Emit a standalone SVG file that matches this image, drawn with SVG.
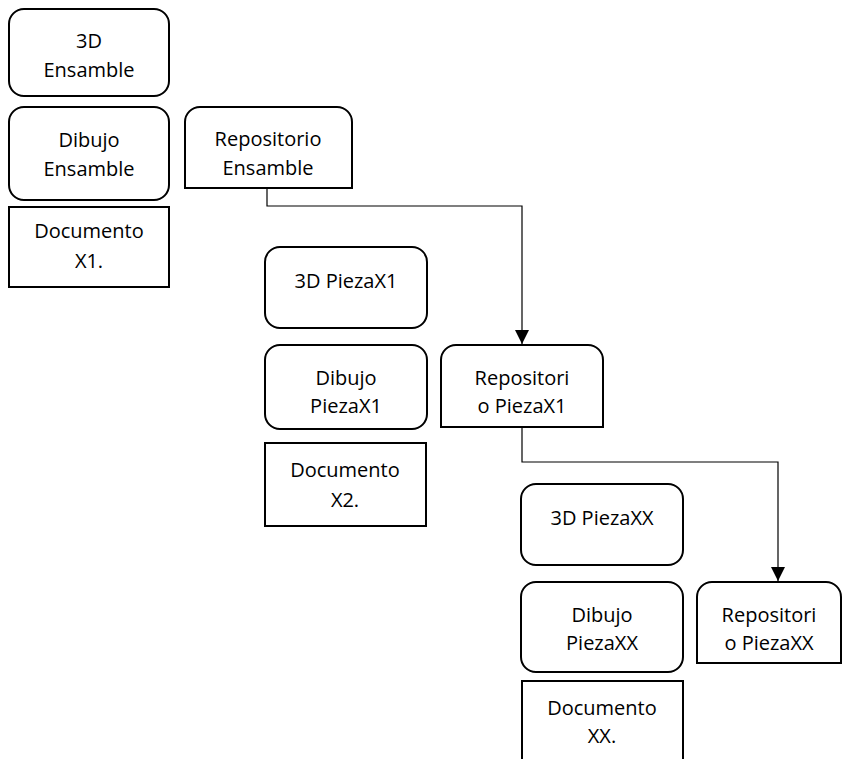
<svg xmlns="http://www.w3.org/2000/svg" width="848" height="759" viewBox="0 0 848 759">
  <style>
    .box { fill: #ffffff; stroke: #000000; stroke-width: 2; }
    .lbl { font-family: "Open Sans", "Liberation Sans", sans-serif; font-size: 20px; fill: #000000; text-anchor: middle; }
    .wire { fill: none; stroke: #000000; stroke-width: 1.2; }
  </style>
  <defs>
    <marker id="arrow" viewBox="0 0 14 14" refX="14" refY="7" markerWidth="14" markerHeight="14" markerUnits="userSpaceOnUse" orient="auto">
      <path d="M0,0 L14,7 L0,14 Z" fill="#000000"/>
    </marker>
  </defs>
  <rect width="848" height="759" fill="#ffffff"/>

  <!-- Assembly column -->
  <g id="ensamble-3d">
    <rect class="box" x="9" y="9" width="160" height="87" rx="15"/>
    <text class="lbl" x="89" y="48">3D</text>
    <text class="lbl" x="89" y="77">Ensamble</text>
  </g>
  <g id="ensamble-dibujo">
    <rect class="box" x="9" y="107" width="160" height="93" rx="15"/>
    <text class="lbl" x="89" y="147">Dibujo</text>
    <text class="lbl" x="89" y="176">Ensamble</text>
  </g>
  <g id="documento-x1">
    <rect class="box" x="9" y="207" width="160" height="80"/>
    <text class="lbl" x="89" y="238">Documento</text>
    <text class="lbl" x="89" y="268">X1.</text>
  </g>
  <g id="repositorio-ensamble">
    <path class="box" d="M185,188 V122 A15,15 0 0 1 200,107 H337 A15,15 0 0 1 352,122 V188 Z"/>
    <text class="lbl" x="268" y="146">Repositorio</text>
    <text class="lbl" x="268" y="175">Ensamble</text>
  </g>

  <!-- Part X1 column -->
  <g id="piezax1-3d">
    <rect class="box" x="265" y="247" width="162" height="81" rx="15"/>
    <text class="lbl" x="346" y="288">3D PiezaX1</text>
  </g>
  <g id="piezax1-dibujo">
    <rect class="box" x="265" y="345" width="162" height="84" rx="15"/>
    <text class="lbl" x="346" y="385">Dibujo</text>
    <text class="lbl" x="346" y="413">PiezaX1</text>
  </g>
  <g id="documento-x2">
    <rect class="box" x="265" y="443" width="161" height="83"/>
    <text class="lbl" x="345" y="477">Documento</text>
    <text class="lbl" x="345" y="507">X2.</text>
  </g>
  <g id="repositorio-piezax1">
    <path class="box" d="M441,427 V360 A15,15 0 0 1 456,345 H588 A15,15 0 0 1 603,360 V427 Z"/>
    <text class="lbl" x="522" y="385">Repositori</text>
    <text class="lbl" x="522" y="413">o PiezaX1</text>
  </g>

  <!-- Part XX column -->
  <g id="piezaxx-3d">
    <rect class="box" x="521" y="484" width="162" height="81" rx="15"/>
    <text class="lbl" x="602" y="525">3D PiezaXX</text>
  </g>
  <g id="piezaxx-dibujo">
    <rect class="box" x="521" y="582" width="162" height="90" rx="15"/>
    <text class="lbl" x="602" y="622">Dibujo</text>
    <text class="lbl" x="602" y="650">PiezaXX</text>
  </g>
  <g id="documento-xx">
    <rect class="box" x="522" y="681" width="161" height="100"/>
    <text class="lbl" x="602" y="715">Documento</text>
    <text class="lbl" x="602" y="743">XX.</text>
  </g>
  <g id="repositorio-piezaxx">
    <path class="box" d="M697,663 V597 A15,15 0 0 1 712,582 H826 A15,15 0 0 1 841,597 V663 Z"/>
    <text class="lbl" x="769" y="622">Repositori</text>
    <text class="lbl" x="769" y="650">o PiezaXX</text>
  </g>

  <!-- Repository links -->
  <g id="connectors">
    <path class="wire" d="M267,188 V206 H522 V344" marker-end="url(#arrow)"/>
    <path class="wire" d="M522,427 V462 H778 V581" marker-end="url(#arrow)"/>
  </g>
</svg>
